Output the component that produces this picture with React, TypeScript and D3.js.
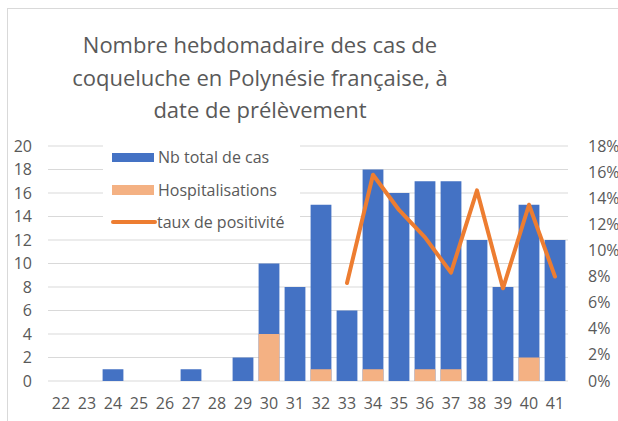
import React from "react";
import * as d3 from "d3";

const weeks = ["22", "23", "24", "25", "26", "27", "28", "29", "30", "31", "32", "33", "34", "35", "36", "37", "38", "39", "40", "41"];
const totalCases = [0, 0, 1, 0, 0, 1, 0, 2, 10, 8, 15, 6, 18, 16, 17, 17, 12, 8, 15, 12];
const hospitalisations = [0, 0, 0, 0, 0, 0, 0, 0, 4, 0, 1, 0, 1, 0, 1, 1, 0, 0, 2, 0];
// positivity rate, only reported from week 33
const positivity: (number | null)[] = [null, null, null, null, null, null, null, null, null, null, null, 0.075, 0.158, 0.131, 0.11, 0.083, 0.146, 0.071, 0.135, 0.08];
const leftTicks = [0, 2, 4, 6, 8, 10, 12, 14, 16, 18, 20];
const rightTicks = [0, 0.02, 0.04, 0.06, 0.08, 0.1, 0.12, 0.14, 0.16, 0.18];
const titleLines = ["Nombre hebdomadaire des cas de", "coqueluche en Polynésie française, à", "date de prélèvement"];

const W = 618;
const H = 421;
const FONT = "'Open Sans', 'Noto Sans', sans-serif";
const TEXT = "#595959";
const BLUE = "#4472C4";
const PEACH = "#F4B183";
const ORANGE = "#ED7D31";

export default function App() {
  const x = d3.scaleBand<string>().domain(weeks).range([48, 568]).paddingInner(0.2).paddingOuter(0.1);
  const y = d3.scaleLinear().domain([0, 20]).range([381, 146]);
  const y2 = d3.scaleLinear().domain([0, 0.18]).range([381, 146]);
  const pct = d3.format(".0%");

  const line = d3
    .line<number | null>()
    .defined((d) => d !== null)
    .x((_, i) => (x(weeks[i]) as number) + x.bandwidth() / 2)
    .y((d) => y2(d as number));

  return (
    <svg width={W} height={H} style={{ position: "absolute", left: 0, top: 0, background: "#fff" }} fontFamily={FONT}>
      <rect x={7.5} y={8.5} width={W + 10} height={H + 10} fill="#fff" stroke="#D9D9D9" />

      {titleLines.map((t, i) => (
        <text key={t} x={260} y={53 + i * 32.5} textAnchor="middle" fontSize={22} fill={TEXT}>
          {t}
        </text>
      ))}

      {leftTicks.map((v) => (
        <line key={v} x1={48} x2={568} y1={y(v)} y2={y(v)} stroke="#D9D9D9" strokeWidth={1} />
      ))}

      {leftTicks.map((v) => (
        <text key={v} x={32} y={y(v)} dy="0.35em" textAnchor="end" fontSize={16} fill={TEXT}>
          {v}
        </text>
      ))}
      {rightTicks.map((v) => (
        <text key={v} x={588} y={y2(v)} dy="0.35em" fontSize={16} fill={TEXT}>
          {pct(v)}
        </text>
      ))}
      {weeks.map((w) => (
        <text key={w} x={(x(w) as number) + x.bandwidth() / 2} y={409} textAnchor="middle" fontSize={16} fill={TEXT}>
          {w}
        </text>
      ))}

      {totalCases.map((v, i) =>
        v > 0 ? (
          <rect key={i} x={x(weeks[i])} y={y(v)} width={x.bandwidth()} height={y(0) - y(v)} fill={BLUE} />
        ) : null
      )}
      {hospitalisations.map((v, i) =>
        v > 0 ? (
          <rect key={i} x={x(weeks[i])} y={y(v)} width={x.bandwidth()} height={y(0) - y(v)} fill={PEACH} />
        ) : null
      )}

      <path d={line(positivity) || ""} fill="none" stroke={ORANGE} strokeWidth={4} strokeLinejoin="round" strokeLinecap="round" />

      <g>
        <rect x={103} y={139} width={197} height={96} fill="#fff" />
        <rect x={112} y={153} width={42} height={9} fill={BLUE} />
        <text x={158} y={163} fontSize={16} fill={TEXT}>Nb total de cas</text>
        <rect x={112} y={185} width={42} height={10} fill={PEACH} />
        <text x={158} y={196} fontSize={16} fill={TEXT}>Hospitalisations</text>
        <line x1={113} x2={155} y1={222} y2={222} stroke={ORANGE} strokeWidth={4} strokeLinecap="round" />
        <text x={157} y={228} fontSize={16} fill={TEXT}>taux de positivité</text>
      </g>
    </svg>
  );
}
